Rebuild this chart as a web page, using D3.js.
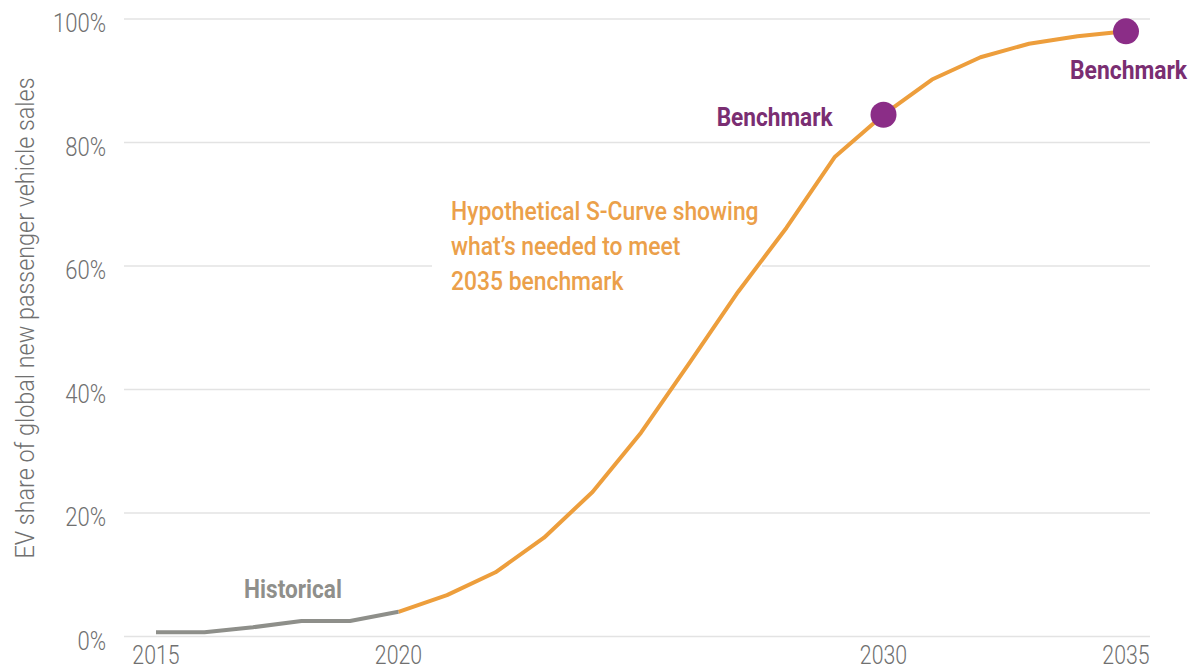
<!DOCTYPE html>
<html>
<head>
<meta charset="utf-8">
<script src="https://cdn.jsdelivr.net/npm/d3@7/dist/d3.min.js"></script>
<style>
  html, body { margin: 0; padding: 0; background: #ffffff; }
  svg { display: block; font-family: Roboto, "Noto Sans", "DejaVu Sans", sans-serif; }
</style>
</head>
<body>
<svg id="chart" width="1197" height="670"></svg>
<script>
// Historical EV share of global new passenger vehicle sales (%)
const historyYears = [2015, 2016, 2017, 2018, 2019, 2020];
const historyShare = [0.7, 0.7, 1.5, 2.5, 2.5, 4.0];

// Hypothetical S-curve needed to reach the 2035 benchmark (%)
const curveYears = [2020, 2021, 2022, 2023, 2024, 2025, 2026, 2027, 2028, 2029, 2030, 2031, 2032, 2033, 2034, 2035];
const curveShare = [4.0, 6.7, 10.4, 16.0, 23.4, 33.0, 44.3, 55.8, 66.2, 77.7, 84.5, 90.2, 93.8, 96.0, 97.2, 98.0];

// Benchmarks
const benchmarkYears = [2030, 2035];
const benchmarkShare = [84.5, 98.0];
const benchmarkLabel = ["Benchmark", "Benchmark"];

// Axis ticks
const yTickValues = [0, 20, 40, 60, 80, 100];
const yTickLabels = ["0%", "20%", "40%", "60%", "80%", "100%"];
const xTickValues = [2015, 2020, 2030, 2035];
const xTickLabels = ["2015", "2020", "2030", "2035"];

const yTitle = "EV share of global new passenger vehicle sales";
const annotationLines = ["Hypothetical S-Curve showing", "what\u2019s needed to meet", "2035 benchmark"];
const historyLabel = "Historical";

const svg = d3.select("#chart");

const x = d3.scaleLinear().domain([2015, 2035]).range([156, 1126]);
const y = d3.scaleLinear().domain([0, 100]).range([636.5, 19]);

const gridLeft = 124, gridRight = 1150;
const squeeze = 0.82; // condensed look for the text

// Text helper: positioned group, horizontally condensed text inside
function addText(parent, px, py, str, opts) {
  const g = parent.append("g").attr("transform", `translate(${px},${py})`);
  const t = g.append("text")
    .attr("transform", `scale(${opts.sx || squeeze},1)`)
    .attr("text-anchor", opts.anchor || "start")
    .attr("font-size", opts.size)
    .attr("font-weight", opts.weight || 400)
    .attr("fill", opts.color)
    .text(str);
  return t;
}

// Gridlines
svg.append("g")
  .selectAll("line")
  .data(yTickValues)
  .join("line")
  .attr("x1", gridLeft)
  .attr("x2", gridRight)
  .attr("y1", d => y(d))
  .attr("y2", d => y(d))
  .attr("stroke", "#e3e3e3")
  .attr("stroke-width", 1.6);

// Y tick labels
const yLab = svg.append("g");
yTickValues.forEach((v, i) => {
  addText(yLab, 106, y(v) + 13, yTickLabels[i], { size: 26, weight: 300, color: "#707070", anchor: "end", sx: 0.85 });
});

// X tick labels
const xLab = svg.append("g");
xTickValues.forEach((v, i) => {
  addText(xLab, x(v), 664, xTickLabels[i], { size: 26, weight: 300, color: "#707070", anchor: "middle", sx: 0.82 });
});

// Y axis title
const titleG = svg.append("g").attr("transform", "translate(34,318) rotate(-90)");
titleG.append("text")
  .attr("text-anchor", "middle")
  .attr("font-size", 25)
  .attr("font-weight", 300)
  .attr("fill", "#707070")
  .attr("transform", "scale(0.935,1)")
  .text(yTitle);

// Annotation backdrop (hides the gridline behind the text)
svg.append("rect")
  .attr("x", 432).attr("y", 190)
  .attr("width", 330).attr("height", 110)
  .attr("fill", "#ffffff");

// Lines
const line = d3.line().x(d => x(d[0])).y(d => y(d[1]));

svg.append("path")
  .datum(curveYears.map((yr, i) => [yr, curveShare[i]]))
  .attr("d", line)
  .attr("fill", "none")
  .attr("stroke", "#ED9E3C")
  .attr("stroke-width", 4)
  .attr("stroke-linejoin", "round");

svg.append("path")
  .datum(historyYears.map((yr, i) => [yr, historyShare[i]]))
  .attr("d", line)
  .attr("fill", "none")
  .attr("stroke", "#8E8F8A")
  .attr("stroke-width", 4)
  .attr("stroke-linejoin", "round");

// Benchmark dots
svg.append("g")
  .selectAll("circle")
  .data(benchmarkYears.map((yr, i) => [yr, benchmarkShare[i]]))
  .join("circle")
  .attr("cx", d => x(d[0]))
  .attr("cy", d => y(d[1]))
  .attr("r", 13)
  .attr("fill", "#8B2D87");

// Benchmark labels
const bLab = svg.append("g");
addText(bLab, x(benchmarkYears[0]) - 51, y(benchmarkShare[0]) + 11, benchmarkLabel[0],
  { size: 26, weight: 700, color: "#7A2E72", anchor: "end", sx: 0.87 });
addText(bLab, x(benchmarkYears[1]) - 56, y(benchmarkShare[1]) + 48, benchmarkLabel[1],
  { size: 26, weight: 700, color: "#7A2E72", anchor: "start", sx: 0.88 });

// Annotation text
const aLab = svg.append("g");
annotationLines.forEach((s, i) => {
  addText(aLab, 451, 220 + i * 35, s, { size: 26, weight: 500, color: "#EBA04A", anchor: "start", sx: 0.88 });
});

// Historical label
addText(svg, 293, 598, historyLabel, { size: 26, weight: 700, color: "#8F8F8B", anchor: "middle", sx: 0.87 });
</script>
</body>
</html>
